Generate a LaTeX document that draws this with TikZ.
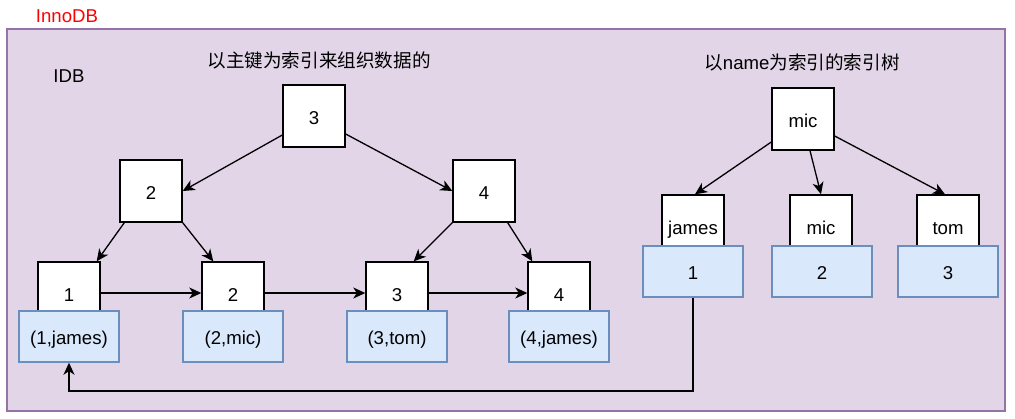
\documentclass[tikz,border=0pt]{standalone}
\usepackage{fontspec}
\setmainfont{Liberation Sans}
\newfontfamily\cjk{Noto Sans CJK SC}
\usetikzlibrary{arrows.meta,calc}
\definecolor{purfill}{HTML}{E1D5E7}
\definecolor{purline}{HTML}{9673A6}
\definecolor{bluefill}{HTML}{DAE8FC}
\definecolor{blueline}{HTML}{6C8EBF}
\definecolor{innored}{HTML}{FF0000}
\begin{document}
\begin{tikzpicture}[x=1pt,y=-1pt,
  font=\fontsize{18.6}{22}\selectfont,
  wbox/.style={draw=black, fill=white, line width=1.4pt, minimum width=62pt, minimum height=62pt, inner sep=0pt, text height=16pt, text depth=0pt},
  dbox/.style={draw=blueline, fill=bluefill, line width=1.4pt, minimum width=100pt, minimum height=51pt, inner sep=0pt, text height=16pt, text depth=0pt},
  arr/.style={line width=1.3pt, -{Stealth[length=12pt,width=11pt,inset=3.5pt]}},
  lbl/.style={inner sep=0pt}]
\useasboundingbox (0,0) rectangle (1015,418);
% container
\node[draw=purline, fill=purfill, line width=1.5pt, minimum width=998pt, minimum height=382pt, inner sep=0pt] (idb) at (506,220) {};
\node[lbl, text=innored] (inno) at (67,16) {InnoDB};
\node[lbl] (idblbl) at (69,76) {IDB};
\node[lbl] (t1) at (319,60) {\cjk 以主键为索引来组织数据的};
\node[lbl] (t2) at (802,62) {{\cjk 以}name{\cjk 为索引的索引树}};
% primary key tree
\node[wbox] (r3) at (314,116) {3};
\node[wbox] (n2) at (151,191) {2};
\node[wbox] (n4) at (484,191) {4};
\node[wbox] (l1) at (69,293) {1};
\node[wbox] (l2) at (233,293) {2};
\node[wbox] (l3) at (397,293) {3};
\node[wbox] (l4) at (559,293) {4};
\node[dbox] (d1) at (69,336.5) {(1,james)};
\node[dbox] (d2) at (233,336.5) {(2,mic)};
\node[dbox] (d3) at (397,336.5) {(3,tom)};
\node[dbox] (d4) at (559,336.5) {(4,james)};
% name tree
\node[wbox] (m) at (803,119) {mic};
\node[wbox] (jn) at (693,226) {james};
\node[wbox] (mn) at (821,226) {mic};
\node[wbox] (tn) at (948,226) {tom};
\node[dbox] (b1) at (693,271.5) {1};
\node[dbox] (b2) at (822,271.5) {2};
\node[dbox] (b3) at (948,271.5) {3};
% arrows primary tree
\draw[arr] ($(r3.west)+(0,19)$) -- (n2.east);
\draw[arr] ($(r3.east)+(0,18)$) -- (n4.west);
\draw[arr] ($(n2.south west)+(5,0)$) -- ($(l1.north east)+(-4,0)$);
\draw[arr] (n2.south east) -- ($(l2.north west)+(12,0)$);
\draw[arr] (n4.south west) -- ($(l3.north east)+(-15,0)$);
\draw[arr] ($(n4.south east)+(-8,0)$) -- ($(l4.north west)+(5,0)$);
\draw[arr] (l1.east) -- (l2.west);
\draw[arr] (l2.east) -- (l3.west);
\draw[arr] (l3.east) -- (l4.west);
% arrows name tree
\draw[arr] ($(m.west)+(0,23)$) -- ($(jn.north)+(2,0)$);
\draw[arr] ($(m.south)+(7,0)$) -- (mn.north);
\draw[arr] ($(m.east)+(0,17)$) -- ($(tn.north)+(-3,0)$);
% back reference
\coordinate (c1) at (693,391);
\coordinate (c2) at (69,391);
\draw[arr] (b1.south) -- (c1) -- (c2) -- (d1.south);
\end{tikzpicture}
\end{document}
